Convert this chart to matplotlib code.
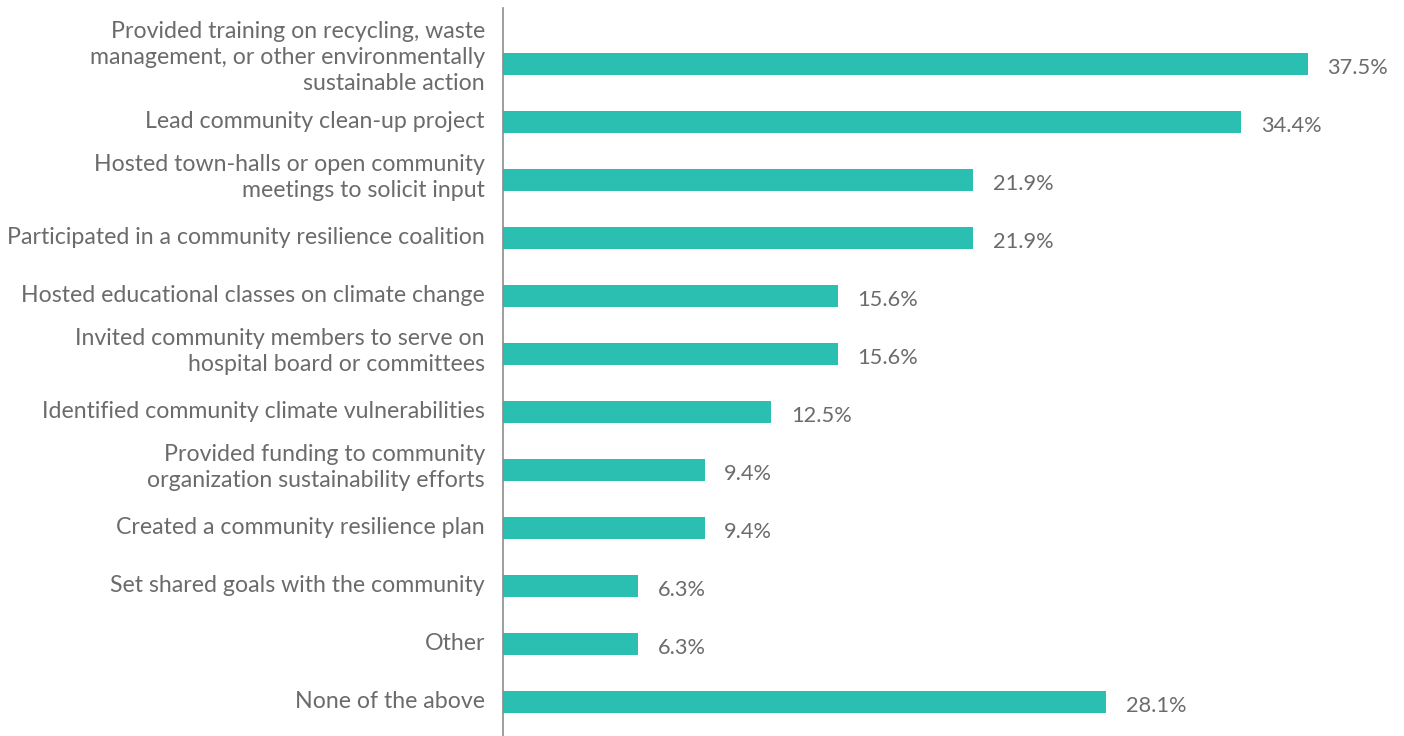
import matplotlib.pyplot as plt
from matplotlib.transforms import ScaledTranslation

categories = [
    "Provided training on recycling, waste\nmanagement, or other environmentally\nsustainable action",
    "Lead community clean-up project",
    "Hosted town-halls or open community\nmeetings to solicit input",
    "Participated in a community resilience coalition",
    "Hosted educational classes on climate change",
    "Invited community members to serve on\nhospital board or committees",
    "Identified community climate vulnerabilities",
    "Provided funding to community\norganization sustainability efforts",
    "Created a community resilience plan",
    "Set shared goals with the community",
    "Other",
    "None of the above",
]
values = [37.5, 34.4, 21.9, 21.9, 15.6, 15.6, 12.5, 9.4, 9.4, 6.3, 6.3, 28.1]

BAR = "#2bbfb1"
TEXT = "#6b6b6b"

plt.rcParams['font.family'] = ['Lato', 'DejaVu Sans']

W, H = 1404, 736
fig = plt.figure(figsize=(W / 100, H / 100), dpi=100)
# axes placed in pixel terms: spine at x=503, 21.47 px per percent
left, top, bottom = 503, 8, 736
xmax = 40
width = xmax * 805 / 37.5
ax = fig.add_axes([left / W, 0, width / W, (bottom - top) / H])

pos = list(range(len(values)))
ax.barh(pos, values, height=0.37, color=BAR)
ax.set_ylim(11.586, -0.966)
ax.set_xlim(0, xmax)

ax.set_yticks(pos)
ax.set_yticklabels(categories, fontsize=16.7, color=TEXT, linespacing=1.28)
ax.tick_params(axis='y', length=0, pad=13)
ax.set_xticks([])

# wrapped labels sit a little higher than the bar centre
for lab in ax.get_yticklabels():
    n = lab.get_text().count("\n")
    dy = (3 + 4 * n) / 100
    lab.set_transform(lab.get_transform() + ScaledTranslation(0, dy, fig.dpi_scale_trans))

for s in ['top', 'right', 'bottom']:
    ax.spines[s].set_visible(False)
ax.spines['left'].set_color('#8c8c8c')
ax.spines['left'].set_linewidth(1.2)

for y, v in zip(pos, values):
    ax.annotate(f"{v:.1f}%", (v, y), xytext=(14, -3), textcoords='offset points',
                va='center', ha='left', fontsize=15.7, color=TEXT)

fig.savefig("out.png", dpi=100)
